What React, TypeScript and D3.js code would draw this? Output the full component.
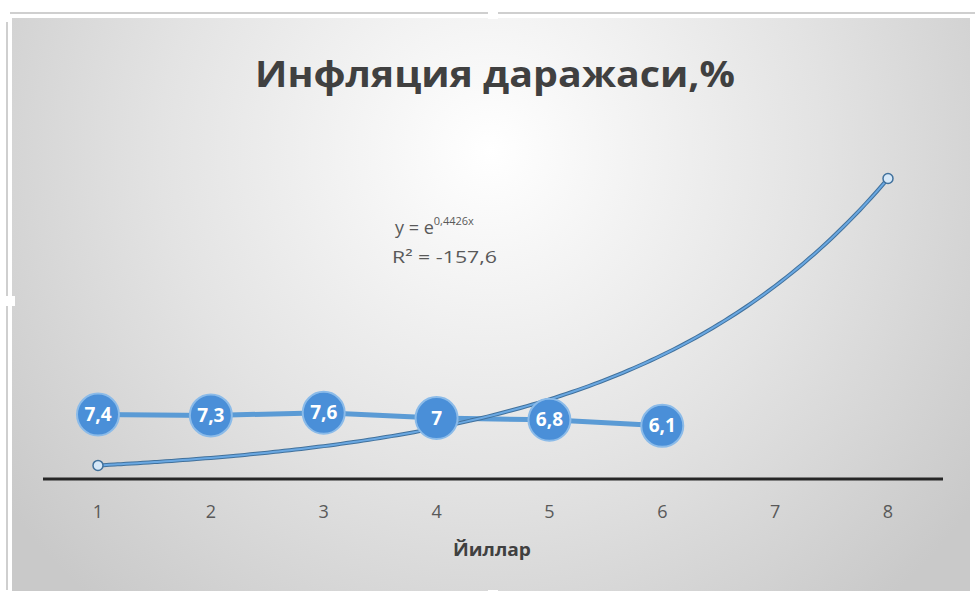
import React from "react";
import * as d3 from "d3";

const years = [1, 2, 3, 4, 5, 6];
const inflation = [7.4, 7.3, 7.6, 7, 6.8, 6.1];
const labels = ["7,4", "7,3", "7,6", "7", "6,8", "6,1"];
const xTicks = [1, 2, 3, 4, 5, 6, 7, 8];
const trendCoef = 0.4426;
const trendRange = [1, 8];
const titleText = "Инфляция даражаси,%";
const axisTitle = "Йиллар";
const rSquaredText = "R² = -157,6";

const W = 976;
const H = 597;

export default function App() {
  const x = d3.scaleLinear().domain([1, 8]).range([98, 888]);
  const y = d3.scaleLinear().domain([0, 40]).range([479, 479 - 40 * 8.71]);

  const line = d3
    .line<number>()
    .x((_, i) => x(years[i]))
    .y((d) => y(d));

  const trendPts = d3.range(trendRange[0], trendRange[1] + 0.0001, 0.05).map((t) => [t, Math.exp(trendCoef * t)] as [number, number]);
  const trendLine = d3
    .line<[number, number]>()
    .x((d) => x(d[0]))
    .y((d) => y(d[1]))
    .curve(d3.curveMonotoneX);

  const ends = [trendRange[0], trendRange[1]];
  const font = "'Open Sans', 'Noto Sans', sans-serif";

  return (
    <svg width={W} height={H} style={{ position: "absolute", left: 0, top: 0 }} fontFamily={font}>
      <defs>
        <radialGradient id="bg" gradientUnits="userSpaceOnUse" cx={490} cy={150} r={600}>
          <stop offset="0" stopColor="#ffffff" />
          <stop offset="0.55" stopColor="#e3e3e3" />
          <stop offset="1" stopColor="#c9c9c9" />
        </radialGradient>
      </defs>
      <rect x={0} y={0} width={W} height={H} fill="#ffffff" />
      {/* frame lines */}
      <line x1={10} x2={975} y1={13} y2={13} stroke="#cfcfcf" strokeWidth={2} />
      <line x1={7} x2={7} y1={22} y2={590} stroke="#cfcfcf" strokeWidth={2} />
      <rect x={12} y={18} width={958} height={573} fill="url(#bg)" />
      <rect x={488} y={9} width={10} height={10} fill="#ffffff" />
      <rect x={488} y={590} width={10} height={7} fill="#ffffff" />
      <rect x={3} y={296} width={12} height={10} fill="#ffffff" />

      {/* title */}
      <text x={495} y={87} textAnchor="middle" fontSize={36} fontWeight="bold" fill="#404040" textLength={480} lengthAdjust="spacingAndGlyphs">
        {titleText}
      </text>

      {/* equation */}
      <text x={395} y={234} fontSize={18} fill="#595959">
        y = e<tspan dy={-9} fontSize={11}>{"0,4426x"}</tspan>
      </text>
      <text x={392} y={263} fontSize={17} fill="#595959" textLength={105} lengthAdjust="spacingAndGlyphs">
        {rSquaredText}
      </text>

      {/* axis */}
      <line x1={43} x2={943} y1={y(0)} y2={y(0)} stroke="#262626" strokeWidth={3} />
      {xTicks.map((t) => (
        <text key={t} x={x(t)} y={518} textAnchor="middle" fontSize={18} fill="#595959">
          {t}
        </text>
      ))}
      <text x={492} y={556} textAnchor="middle" fontSize={18} fontWeight="bold" fill="#404040" textLength={78} lengthAdjust="spacingAndGlyphs">
        {axisTitle}
      </text>

      {/* data line */}
      <path d={line(inflation) || ""} fill="none" stroke="#5b9bd5" strokeWidth={5} />

      {/* trend line */}
      <path d={trendLine(trendPts) || ""} fill="none" stroke="#41719c" strokeWidth={4} />
      <path d={trendLine(trendPts) || ""} fill="none" stroke="#6aa8e2" strokeWidth={2} />
      {ends.map((t) => (
        <circle key={t} cx={x(t)} cy={y(Math.exp(trendCoef * t))} r={5} fill="#d6e8f8" stroke="#41719c" strokeWidth={1.5} />
      ))}

      {/* markers */}
      {inflation.map((v, i) => (
        <g key={i}>
          <circle cx={x(years[i])} cy={y(v)} r={21} fill="#4a8fd8" stroke="#8bbbe9" strokeWidth={2} />
          <text x={x(years[i])} y={y(v) + 6.5} textAnchor="middle" fontSize={19} fontWeight="bold" fill="#ffffff">
            {labels[i]}
          </text>
        </g>
      ))}
    </svg>
  );
}
